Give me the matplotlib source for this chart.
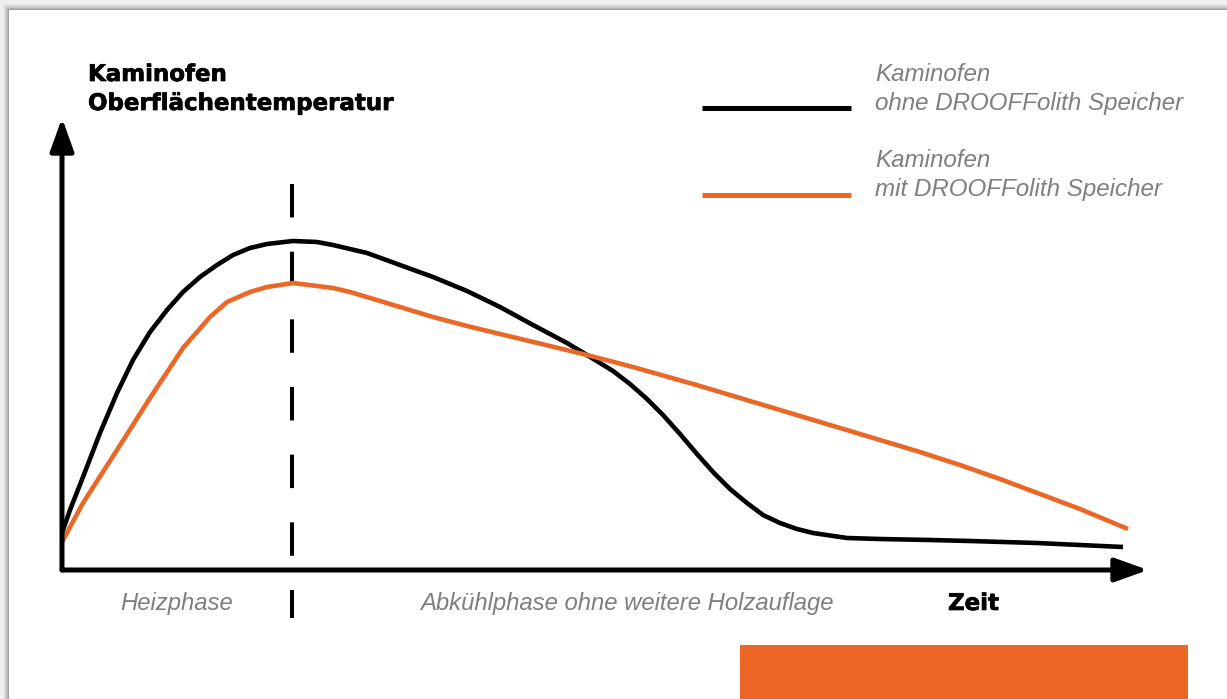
"""Kaminofen Oberflächentemperatur - Heizphase / Abkühlphase."""

import matplotlib
matplotlib.use("Agg")

import matplotlib.pyplot as plt
import matplotlib.patches as mpatches
import matplotlib.patheffects as pe

# ── Data (arbitrary units: time 0..1086, temperature 0..452) ───────────
zeit_ohne = [0, 8, 21, 38, 55, 71, 88, 105, 121, 138, 155, 171, 188, 205,
             231, 255, 271, 305, 338, 371, 405, 438, 471, 505, 525, 551,
             568, 585, 601, 618, 635, 651, 668, 685, 701, 718, 735, 751,
             785, 818, 868, 908, 975, 1018, 1061]
temp_ohne = [37, 60, 93, 137, 177, 210, 238, 260, 278, 293, 305, 315, 322, 326,
             329, 328, 325, 317, 305, 293, 279, 263, 245, 227, 215, 199,
             186, 171, 155, 136, 116, 98, 81, 67, 55, 47, 41, 37,
             32, 31, 30, 29, 27, 25, 23]

zeit_mit = [0, 21, 55, 88, 121, 148, 165, 188, 205, 231, 271, 288, 338, 371,
            405, 438, 488, 525, 571, 638, 688, 738, 788, 818, 858, 898,
            938, 978, 1018, 1066]
temp_mit = [28, 67, 120, 172, 222, 253, 268, 278, 283, 287, 282, 278, 263, 253,
            244, 236, 224, 215, 203, 184, 169, 154, 139, 130, 118, 105,
            91, 76, 61, 41]

phasen_grenze = 230           # end of Heizphase
series_labels = ["Kaminofen\nohne DROOFFolith Speicher",
                 "Kaminofen\nmit DROOFFolith Speicher"]
phase_labels = ["Heizphase", "Abkühlphase ohne weitere Holzauflage"]

BLACK = "#000000"
ORANGE = "#EC6726"
GREY = "#7F7F7F"

W, H = 1227, 699
fig = plt.figure(figsize=(W / 100, H / 100), dpi=100)
fig.patch.set_facecolor("#EFEFEF")

# ── Overlay axes in pixel coordinates (card, arrows, texts) ────────────
bg = fig.add_axes([0, 0, 1, 1])
bg.set_xlim(0, W)
bg.set_ylim(H, 0)
bg.axis("off")

for i, a in enumerate([0.03, 0.04, 0.05, 0.06, 0.08, 0.1]):
    off = 6 - i
    bg.add_patch(mpatches.Rectangle((9 - off, 10 - off), W, H, facecolor="black",
                                    alpha=a, edgecolor="none", zorder=0))
bg.add_patch(mpatches.Rectangle((9, 10), W, H, facecolor="white",
                                edgecolor="none", zorder=0.5))
bg.add_patch(mpatches.Rectangle((740, 645), 448, 60, facecolor=ORANGE,
                                edgecolor="none", zorder=1))

# ── Data axes ───────────────────────────────────────────────────────────
x0, x1, y0, y1 = 62, 1148, 570, 118
ax = fig.add_axes([x0 / W, 1 - y0 / H, (x1 - x0) / W, (y0 - y1) / H])
ax.set_xlim(0, x1 - x0)
ax.set_ylim(0, y0 - y1)
ax.axis("off")
ax.patch.set_alpha(0)

ax.plot(zeit_ohne, temp_ohne, color=BLACK, lw=3.3, solid_capstyle="butt",
        solid_joinstyle="round", zorder=3, clip_on=False)
ax.plot(zeit_mit, temp_mit, color=ORANGE, lw=3.3, solid_capstyle="butt",
        solid_joinstyle="round", zorder=3, clip_on=False)
ax.plot([phasen_grenze, phasen_grenze], [386, -48], color=BLACK, lw=2.9,
        linestyle=(0, (8.3, 8.5)), dash_capstyle="butt", zorder=2, clip_on=False)

# axis arrows
arrow_kw = dict(arrowstyle="-|>,head_length=1.25,head_width=0.45", color=BLACK,
                lw=3.6, shrinkA=0, shrinkB=0, mutation_scale=16)
ax.annotate("", xy=(1, 0), xytext=(0, 0), xycoords="axes fraction",
            arrowprops=arrow_kw, zorder=4)
ax.annotate("", xy=(0, 1), xytext=(0, 0), xycoords="axes fraction",
            arrowprops=arrow_kw, zorder=4)

# ── Texts ───────────────────────────────────────────────────────────────
heavy = [pe.withStroke(linewidth=0.5, foreground=BLACK)]
bold = dict(family="DejaVu Sans", fontweight="bold", color=BLACK,
            va="baseline", path_effects=heavy)
ital = dict(family="Liberation Sans", style="italic", color=GREY, va="baseline")

bg.text(88, 81, "Kaminofen", fontsize=16.5, **bold)
bg.text(88, 110, "Oberflächentemperatur", fontsize=16.5, **bold)
bg.text(948, 610, "Zeit", fontsize=16.5, **bold)

bg.text(120, 610, phase_labels[0], fontsize=17.2, **ital)
bg.text(420, 610, phase_labels[1], fontsize=17.2, **ital)

# legend
for (label, color, ly, ty) in [(series_labels[0], BLACK, 108, 81),
                               (series_labels[1], ORANGE, 195, 167)]:
    bg.plot([702, 851], [ly, ly], color=color, lw=3.6, solid_capstyle="butt")
    top, bottom = label.split("\n")
    bg.text(875, ty, top, fontsize=17.4, **ital)
    bg.text(875, ty + 29, bottom, fontsize=17.4, **ital)

fig.savefig("out.png", dpi=100, facecolor=fig.get_facecolor())
